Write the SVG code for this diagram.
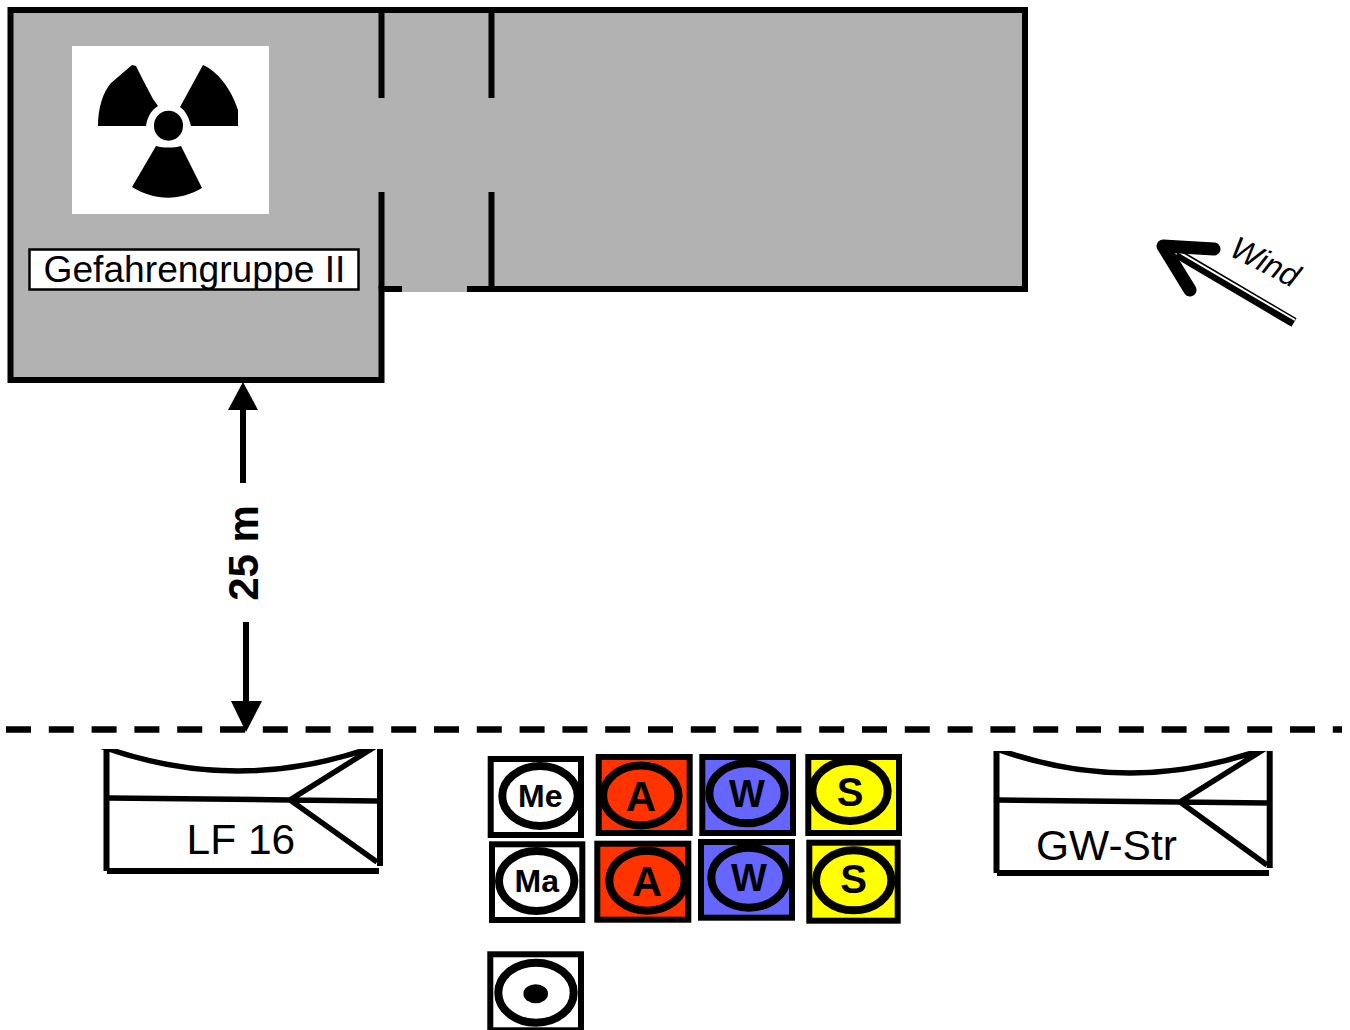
<svg xmlns="http://www.w3.org/2000/svg" width="1350" height="1030" viewBox="0 0 1350 1030">
<style>
text{font-family:"Liberation Sans",Arial,sans-serif;fill:#000}
.b{font-weight:bold;text-anchor:middle}
.wall{fill:none;stroke:#000;stroke-width:6}
.box{stroke:#000;stroke-width:6}
.ring{fill:none;stroke:#000;stroke-width:8}
.sign{fill:none;stroke:#000;stroke-width:5.500}
.sw{fill:none;stroke:#000;stroke-width:6}
.red{fill:#FF3300}.blue{fill:#6666FF}.yel{fill:#FFFF00}.wht{fill:#fff}
</style>
<defs>
<clipPath id="c1"><rect x="100" y="749" width="290" height="130"/></clipPath>
<clipPath id="c2"><rect x="990" y="751" width="290" height="130"/></clipPath>
</defs>
<g id="building">
<path d="M10.500 10H1025V289H381.500V380H10.500Z" fill="#B2B2B2" stroke="none"/>
<path class="wall" d="M402 289H381.500V380H10.500V10H1025V289H467"/>
<path class="wall" d="M381.500 10V98M381.500 192V289M491.500 10V98M491.500 192V289"/>
<rect x="402" y="286" width="65" height="6" fill="#B2B2B2"/>
</g>
<g id="radiation-sign">
<rect x="72" y="46" width="197" height="168" fill="#fff"/>
<path d="M98 126C98 108 103 92 111 83L132 65L136 66L143 80L153 99L158 106C151 110 147 118 146 126Z"/>
<path d="M203 65C217 71 231 88 238 110V126H191C189 118 186 111 180 107Z"/>
<path d="M156 146C164 148 173 148 181 146L202 188C180 201 155 201 132 187Z"/>
<ellipse cx="168.500" cy="125.700" rx="14.500" ry="15"/>
</g>
<g id="hazard-label">
<rect x="29.500" y="249.500" width="329" height="40" fill="#fff" stroke="#000" stroke-width="2.500"/>
<text x="43.500" y="282" font-size="37.200">Gefahrengruppe II</text>
</g>
<g id="connectors">
<path d="M243 483V408" stroke="#000" stroke-width="6" fill="none"/>
<path d="M243 382L258 410H228Z"/>
<path d="M246 622V704" stroke="#000" stroke-width="6" fill="none"/>
<path d="M246 732L262 701H231Z"/>
<path d="M6 729.500H1342" stroke="#000" stroke-width="6.500" stroke-dasharray="25 17.800" fill="none"/>
</g>
<g id="distance-label">
<text class="b" transform="translate(258 553) rotate(-90)" font-size="42">25 m</text>
</g>
<g id="wind">
<path d="M1294 322.500L1177 253.500" stroke="#000" stroke-width="10" fill="none"/>
<path d="M1295 320L1178 251.500" stroke="#fff" stroke-width="2" fill="none"/>
<path d="M1214 249L1163 246L1190 290" stroke="#000" stroke-width="13" stroke-linecap="round" stroke-linejoin="round" fill="none"/>
<text transform="translate(1228 255) rotate(27)" font-size="32" font-style="italic">Wind</text>
</g>
<g id="lf16">
<path class="sw" d="M106.500 749V871M380 749V866M107 871H379"/>
<g clip-path="url(#c1)"><path class="sign" d="M100 746Q238 796 376 746L290 800L377 862M109 798L290 800L378 801"/></g>
<text x="186.500" y="854" font-size="42.500">LF 16</text>
</g>
<g id="gw-str">
<path class="sw" d="M996.500 751V873M1269.700 751V868M997 873H1269"/>
<g clip-path="url(#c2)"><path class="sign" d="M994 748Q1130 798 1266 748L1180 802L1267 865M999 800L1180 802L1267 803"/></g>
<text x="1036" y="860" font-size="42.500">GW-Str</text>
</g>
<g id="me">
<rect class="box wht" x="490.700" y="759" width="90.300" height="76"/>
<ellipse class="ring" cx="540" cy="796" rx="37.700" ry="30"/>
<text class="b" x="540.300" y="807" font-size="32">Me</text>
</g>
<g id="a1">
<rect class="box red" x="598.700" y="757" width="91" height="76"/>
<ellipse class="ring" cx="640.800" cy="795.500" rx="37.700" ry="30"/>
<text class="b" x="641" y="810.700" font-size="42">A</text>
</g>
<g id="w1">
<rect class="box blue" x="702.300" y="757" width="90.700" height="76"/>
<ellipse class="ring" cx="747" cy="793.300" rx="37.700" ry="30"/>
<text class="b" x="747" y="806.700" font-size="38">W</text>
</g>
<g id="s1">
<rect class="box yel" x="808.300" y="757" width="90.700" height="76"/>
<ellipse class="ring" cx="850" cy="791" rx="37.700" ry="30"/>
<text class="b" x="850" y="806" font-size="40">S</text>
</g>
<g id="ma">
<rect class="box wht" x="492" y="844.300" width="90.300" height="75.700"/>
<ellipse class="ring" cx="536.700" cy="881" rx="37.700" ry="30"/>
<text class="b" x="536.700" y="892" font-size="32">Ma</text>
</g>
<g id="a2">
<rect class="box red" x="597.300" y="843.700" width="91" height="76"/>
<ellipse class="ring" cx="647" cy="880.700" rx="37.700" ry="30"/>
<text class="b" x="647" y="895.700" font-size="42">A</text>
</g>
<g id="w2">
<rect class="box blue" x="701" y="842" width="91" height="75.700"/>
<ellipse class="ring" cx="749" cy="877.700" rx="37.700" ry="30"/>
<text class="b" x="749" y="890.700" font-size="38">W</text>
</g>
<g id="s2">
<rect class="box yel" x="809.300" y="842.700" width="88.400" height="78"/>
<ellipse class="ring" cx="853.700" cy="880.300" rx="37.700" ry="30"/>
<text class="b" x="853.700" y="893.300" font-size="40">S</text>
</g>
<g id="dot">
<rect class="box wht" x="490.300" y="954.300" width="90.700" height="76"/>
<ellipse class="ring" cx="536" cy="992.700" rx="37.700" ry="30"/>
<ellipse cx="535.700" cy="993.700" rx="12.300" ry="9.500"/>
</g>
</svg>
